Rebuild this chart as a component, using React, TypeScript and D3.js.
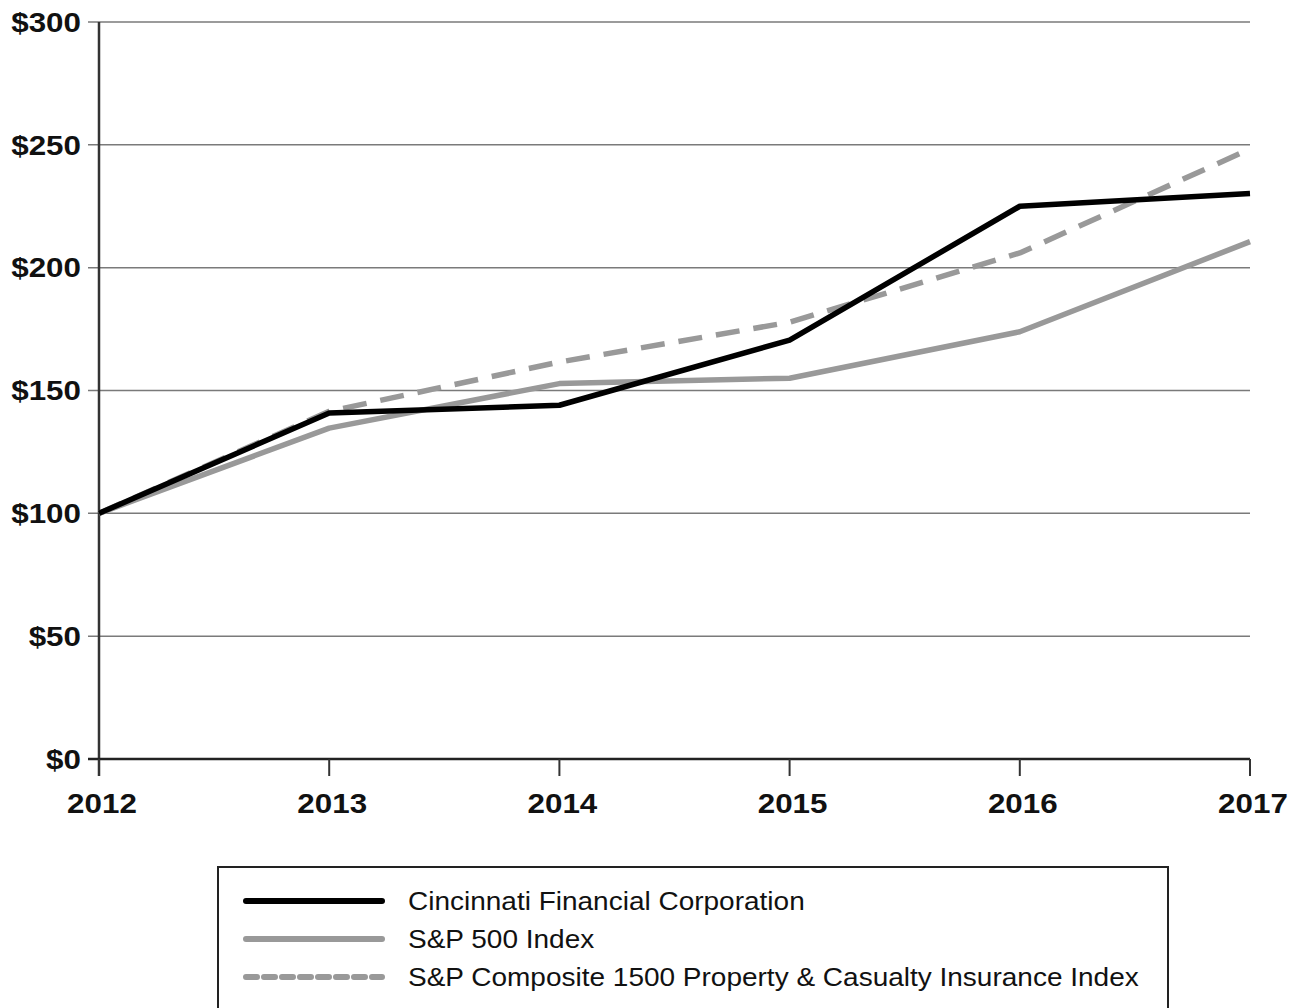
import React, { FC } from 'react'
import * as d3 from 'd3'

const years = [2012, 2013, 2014, 2015, 2016, 2017]
const cincinnati = [100, 140.8, 144, 170.5, 225, 230.2]
const sp500 = [100, 134.7, 152.8, 155, 173.9, 210.6]
const pcIndex = [100, 141.5, 161.6, 177.8, 206, 248.3]
const yTicks = [0, 50, 100, 150, 200, 250, 300]

const seriesNames = [
	'Cincinnati Financial Corporation',
	'S&P 500 Index',
	'S&P Composite 1500 Property & Casualty Insurance Index'
]

const W = 1297
const H = 1008
const margin = { left: 99, right: 47, top: 22, bottom: 249 }
const font = '"Liberation Sans", Arial, Helvetica, sans-serif'
// the reference type is a bit wider than Liberation Sans
const stretch = 1.12

const App: FC = () => {
	const x = d3
		.scaleLinear()
		.domain([2012, 2017])
		.range([margin.left, W - margin.right])
	const y = d3
		.scaleLinear()
		.domain([0, 300])
		.range([H - margin.bottom, margin.top])

	const line = d3
		.line<number>()
		.x((_, i) => x(years[i]))
		.y((d) => y(d))

	const styles = [
		{ data: pcIndex, stroke: '#999', dash: '24 14' },
		{ data: sp500, stroke: '#999', dash: undefined },
		{ data: cincinnati, stroke: '#000', dash: undefined }
	]
	const legend = [
		{ name: seriesNames[0], stroke: '#000', dash: undefined },
		{ name: seriesNames[1], stroke: '#999', dash: undefined },
		{ name: seriesNames[2], stroke: '#999', dash: '11 7' }
	]

	const x0 = margin.left
	const x1 = W - margin.right
	const yBase = y(0)

	return (
		<svg
			width={W}
			height={H}
			style={{ position: 'absolute', left: 0, top: 0, background: '#fff' }}
		>
			{/* grid + y labels */}
			{yTicks.map((t) => (
				<g key={t}>
					{t > 0 && (
						<line
							x1={x0 - 11}
							x2={x1}
							y1={y(t)}
							y2={y(t)}
							stroke="#7a7a7a"
							strokeWidth={1.5}
						/>
					)}
					<g transform={`translate(81,${y(t)}) scale(${stretch},1)`}>
						<text
							dy="0.35em"
							textAnchor="end"
							fontFamily={font}
							fontWeight="bold"
							fontSize={28}
							fill="#111"
						>
							${t}
						</text>
					</g>
				</g>
			))}
			{/* axes */}
			<line x1={x0} x2={x0} y1={y(300)} y2={yBase + 17} stroke="#333" strokeWidth={2.5} />
			<line x1={x0 - 11} x2={x1} y1={yBase} y2={yBase} stroke="#222" strokeWidth={2.5} />
			{years.map((yr) => (
				<g key={yr}>
					<line x1={x(yr)} x2={x(yr)} y1={yBase} y2={yBase + 17} stroke="#333" strokeWidth={2} />
					<g transform={`translate(${x(yr) + 3},813) scale(${stretch},1)`}>
						<text
							textAnchor="middle"
							fontFamily={font}
							fontWeight="bold"
							fontSize={28}
							fill="#111"
						>
							{yr}
						</text>
					</g>
				</g>
			))}
			{/* series */}
			{styles.map((s, i) => (
				<path
					key={i}
					d={line(s.data) || ''}
					fill="none"
					stroke={s.stroke}
					strokeWidth={5.5}
					strokeDasharray={s.dash}
					strokeLinejoin="round"
				/>
			))}
			{/* legend */}
			<rect x={218} y={867} width={950} height={170} fill="none" stroke="#222" strokeWidth={2} />
			{legend.map((l, i) => (
				<g key={l.name} transform={`translate(0,${901 + i * 38})`}>
					<line
						x1={246}
						x2={382}
						y1={0}
						y2={0}
						stroke={l.stroke}
						strokeWidth={6}
						strokeLinecap="round"
						strokeDasharray={l.dash}
					/>
					<g transform={`translate(408,0) scale(${stretch},1)`}>
						<text dy="0.35em" fontFamily={font} fontSize={25} fill="#111">
							{l.name}
						</text>
					</g>
				</g>
			))}
		</svg>
	)
}

export default App
